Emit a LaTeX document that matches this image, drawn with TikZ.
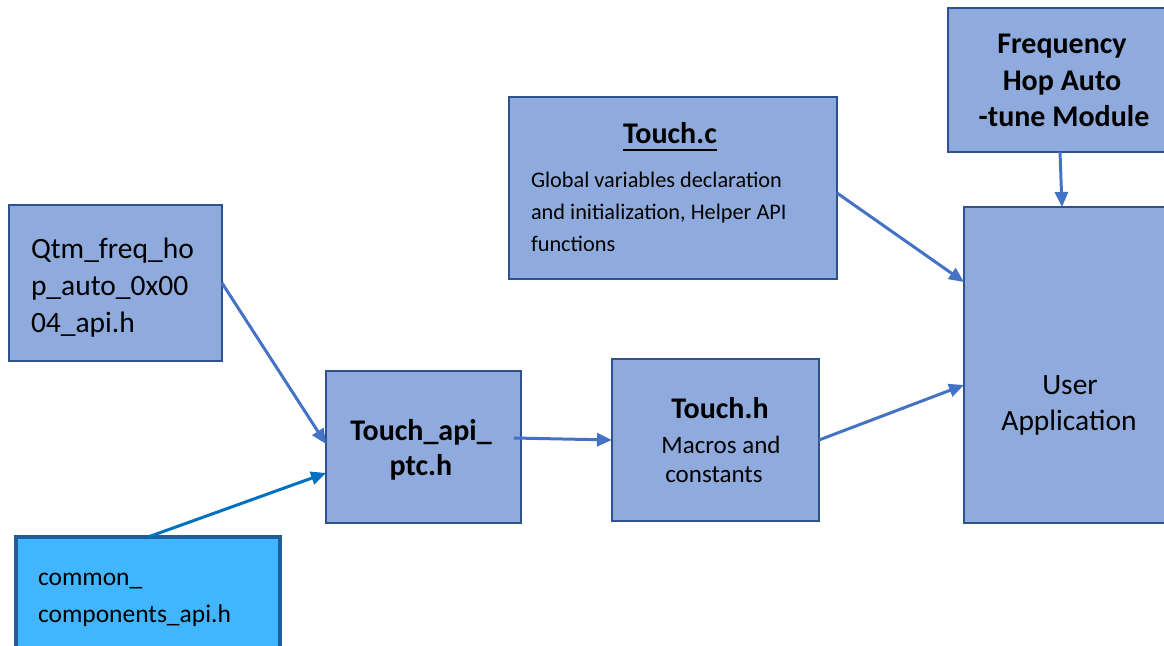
\documentclass[tikz,border=0pt]{standalone}
\usepackage{fontspec}
\setmainfont{Carlito}
\usetikzlibrary{arrows.meta,calc}
\definecolor{boxfill}{HTML}{8FAADC}
\definecolor{boxline}{HTML}{2F528F}
\definecolor{arrowc}{HTML}{4472C4}
\definecolor{comfill}{HTML}{41B6FF}
\definecolor{comline}{HTML}{1F5F99}
\definecolor{comarrow}{HTML}{0070C0}
\tikzset{
  box/.style={draw=boxline, fill=boxfill, line width=2pt, inner sep=0pt, outer sep=0pt},
  combox/.style={draw=comline, fill=comfill, line width=4.5pt, inner sep=0pt, outer sep=0pt},
  txt/.style={inner sep=0pt, outer sep=0pt, anchor=base},
  txtl/.style={inner sep=0pt, outer sep=0pt, anchor=base west},
  big/.style={font=\fontsize{29.5}{35}\selectfont},
  bigb/.style={font=\fontsize{30}{35}\selectfont\bfseries},
  mid/.style={font=\fontsize{25}{30}\selectfont},
  com/.style={font=\fontsize{25.5}{30}\selectfont},
  small/.style={font=\fontsize{22.3}{26}\selectfont},
  conn/.style={draw=arrowc, line width=3pt, -{Triangle[length=15pt,width=13pt]}},
}
\begin{document}
\begin{tikzpicture}[x=1pt,y=-1pt]
\useasboundingbox (0,0) rectangle (1164,645);
\clip (0,0) rectangle (1164,645);
% boxes
\node[box, minimum width=213pt, minimum height=156pt] (qtm) at (115.5,283) {};
\node[box, minimum width=195pt, minimum height=152pt] (touchapi) at (423.5,447) {};
\node[box, minimum width=207pt, minimum height=162pt] (touchh) at (715.5,440) {};
\node[box, minimum width=328pt, minimum height=182pt] (touchc) at (673,188) {};
\node[box, minimum width=228pt, minimum height=144pt] (freq) at (1062,80) {};
\node[box, minimum width=212pt, minimum height=316pt] (user) at (1070,365) {};
\node[combox, minimum width=264pt, minimum height=123pt] (common) at (148,598.5) {};
% texts
\node[txtl, big] (qtm1) at (31,258) {Qtm\_freq\_ho};
\node[txtl, big] (qtm2) at (31,295) {p\_auto\_0x00};
\node[txtl, big] (qtm3) at (31,332) {04\_api.h};
\node[txt, bigb] (ta1) at (421,440) {Touch\_api\_};
\node[txt, bigb] (ta2) at (421,475) {ptc.h};
\node[txt, bigb] (th1) at (720,418) {Touch.h};
\node[txt, mid] (th2) at (721,453) {Macros and};
\node[txt, mid] (th3) at (714,482) {constants};
\node[txt, bigb] (tc1) at (670,143) {Touch.c};
\draw[line width=2pt] ($(tc1.base west)+(0,7)$) -- ($(tc1.base east)+(0,7)$);
\node[txtl, small] (tc2) at (531,187) {Global variables declaration};
\node[txtl, small] (tc3) at (531,219) {and initialization, Helper API};
\node[txtl, small] (tc4) at (531,251) {functions};
\node[txt, bigb] (fr1) at (1062,53) {Frequency};
\node[txt, bigb] (fr2) at (1062,90) {Hop Auto};
\node[txt, bigb] (fr3) at (1064,126) {-tune Module};
\node[txt, big] (ua1) at (1070,394) {User};
\node[txt, big] (ua2) at (1069,430) {Application};
\node[txtl, com] (cm1) at (38,585) {common\_};
\node[txtl, com] (cm2) at (38,622) {components\_api.h};
% connectors
\draw[conn] (qtm.east) -- ($(touchapi.west)+(0,-3)$);
\draw[conn, draw=comarrow] (common.north) -- ($(touchapi.west)+(0,26)$);
\draw[conn] ($(touchapi.east)+(-7,-9)$) -- (touchh.west);
\draw[conn] (touchh.east) -- ($(user.west)+(0,20)$);
\draw[conn] ($(touchc.east)+(0,5)$) -- ($(user.west)+(0,-83)$);
\draw[conn] ($(freq.south)+(-2,0)$) -- ($(user.north)+(-8,0)$);
\end{tikzpicture}
\end{document}
